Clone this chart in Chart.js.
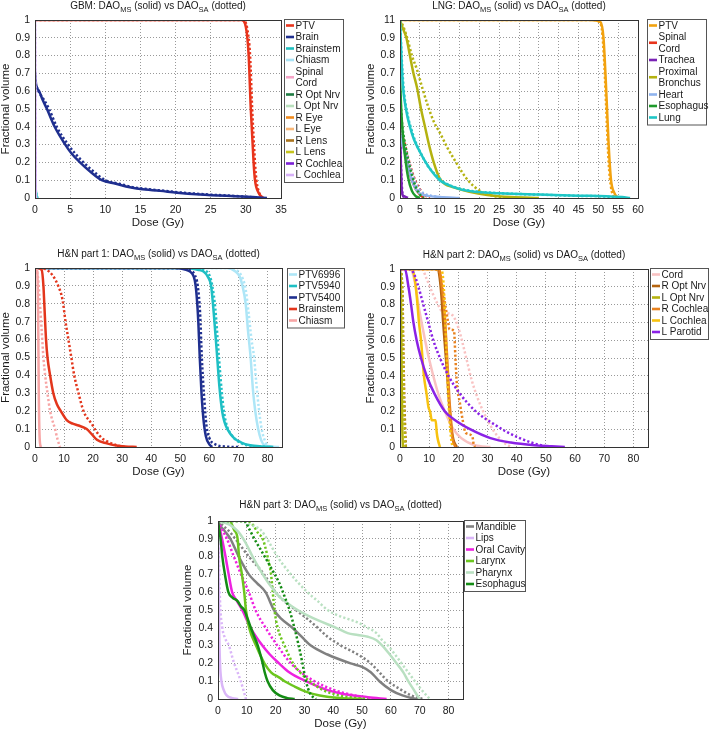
<!DOCTYPE html>
<html>
<head>
<meta charset="utf-8">
<script src="https://cdn.jsdelivr.net/npm/chart.js@4.4.1/dist/chart.umd.min.js"></script>
<style>
  body { margin: 0; background: #fff; width: 709px; height: 730px; overflow: hidden; position: relative; }
  canvas { position: absolute; left: 0; top: 0; }
</style>
</head>
<body>
<canvas id="gbm" width="709" height="730"></canvas>
<canvas id="lng" width="709" height="730"></canvas>
<canvas id="hn1" width="709" height="730"></canvas>
<canvas id="hn2" width="709" height="730"></canvas>
<canvas id="hn3" width="709" height="730"></canvas>
<script>
// ---- GBM ----
const gbmNames = ['PTV','Brain','Brainstem','Chiasm','Spinal Cord','R Opt Nrv','L Opt Nrv','R Eye','L Eye','R Lens','L Lens','R Cochlea','L Cochlea']
const gbmColors = ['#e8341c','#1f2f8f','#1fbfbf','#a8e2f4','#f5a3c7','#1d7a40','#b9e0bd','#f08a1c','#f9b777','#a9731c','#c6c41c','#7b1fd6','#d6b0f7']
const gbm_ptv_ms = [[0,1],[29.4,1],[30,0.96],[30.4,0.8],[30.7,0.5],[31.1,0.2],[31.3,0.1],[31.8,0.03],[32.5,0]]
const gbm_ptv_sa = [[0,1],[29.6,1],[30.2,0.95],[30.6,0.8],[30.9,0.5],[31.3,0.2],[31.5,0.1],[31.9,0.03],[32.3,0]]
const gbm_brain_ms = [[0,0.71],[0.15,0.64],[0.6,0.6],[1.1,0.55],[1.7,0.5],[2.8,0.4],[4.3,0.3],[5.2,0.25],[6.4,0.2],[7.8,0.15],[9.5,0.1],[11.5,0.08],[13.5,0.06],[15,0.05],[17.8,0.04],[20.2,0.03],[23.5,0.02],[28.3,0.01],[31,0.005],[33,0]]
const gbm_brain_sa = [[0,0.65],[0.5,0.6],[1.3,0.55],[2,0.5],[3.1,0.4],[4.7,0.3],[5.7,0.25],[6.9,0.2],[8.3,0.15],[10,0.1],[12,0.08],[14,0.06],[16,0.05],[18.5,0.04],[21,0.03],[24.5,0.02],[29,0.01],[32,0]]
const gbm_bstem_ms = [[0,0.1],[0.15,0.03],[0.3,0]]
const gbm_bstem_sa = [[0,0.08],[0.2,0.02],[0.35,0]]
const gbm_chiasm_ms = [[0,0.06],[0.1,0.02],[0.2,0]]
const gbm_chiasm_sa = [[0,0.05],[0.12,0.02],[0.22,0]]
const gbm_cord_ms = [[0,0.03],[0.1,0]]
const gbm_cord_sa = [[0,0.03],[0.12,0]]
const gbm_ropt_ms = [[0,0.02],[0.1,0]]
const gbm_ropt_sa = [[0,0.02],[0.1,0]]
const gbm_lopt_ms = [[0,0.02],[0.1,0]]
const gbm_lopt_sa = [[0,0.02],[0.1,0]]
const gbm_reye_ms = [[0,0.02],[0.1,0]]
const gbm_reye_sa = [[0,0.02],[0.1,0]]
const gbm_leye_ms = [[0,0.02],[0.1,0]]
const gbm_leye_sa = [[0,0.02],[0.1,0]]
const gbm_rlens_ms = [[0,0.02],[0.1,0]]
const gbm_rlens_sa = [[0,0.02],[0.1,0]]
const gbm_llens_ms = [[0,0.02],[0.1,0]]
const gbm_llens_sa = [[0,0.02],[0.1,0]]
const gbm_rcoch_ms = [[0,0.02],[0.1,0]]
const gbm_rcoch_sa = [[0,0.02],[0.1,0]]
const gbm_lcoch_ms = [[0,1],[0.05,0.5],[0.1,0]]
const gbm_lcoch_sa = [[0,1],[0.05,0.5],[0.1,0]]

// ---- LNG ----
const lngNames = ['PTV','Spinal Cord','Trachea','Proximal Bronchus','Heart','Esophagus','Lung']
const lngColors = ['#f2a20f','#e8341c','#7a22b5','#b4b210','#8fb3ee','#1f9a2c','#1fc6c6']
const lng_ptv_ms = [[0,1],[48,1],[50.5,0.99],[51.3,0.9],[52,0.6],[52.6,0.3],[53.2,0.1],[54,0.03],[55,0]]
const lng_ptv_sa = [[0,1],[49,1],[50.7,0.97],[51.4,0.8],[52,0.5],[52.6,0.2],[53.2,0.06],[54,0]]
const lng_cord_ms = [[0,0.35],[1,0.28],[2,0.18],[3,0.1],[4,0.05],[5,0.02],[6,0]]
const lng_cord_sa = [[0,0.38],[1,0.32],[2,0.23],[3,0.15],[4,0.09],[5,0.05],[6,0.02],[7.5,0]]
const lng_trachea_ms = [[0,0.4],[0.2,0.2],[0.5,0.03],[1,0.01],[2,0]]
const lng_trachea_sa = [[0,0.36],[0.3,0.15],[0.6,0.03],[1.2,0]]
const lng_bronch_ms = [[0,1],[0.6,0.96],[1.6,0.9],[2.5,0.8],[3.4,0.7],[4.3,0.62],[5.3,0.5],[6.3,0.4],[7.3,0.3],[8.5,0.2],[10,0.11],[11.2,0.08],[13.5,0.06],[17.5,0.035],[22,0.017],[28,0.005],[35,0]]
const lng_bronch_sa = [[0,1],[0.7,0.97],[1.8,0.9],[3,0.8],[4.3,0.72],[5.6,0.62],[7,0.52],[8.5,0.43],[10.2,0.36],[12,0.28],[13.6,0.22],[15.5,0.15],[17.5,0.09],[19.5,0.05],[21.5,0.025],[24,0.01],[27,0]]
const lng_heart_ms = [[0,0.35],[1,0.27],[2,0.18],[3,0.1],[4,0.05],[5,0.025],[7,0.012],[10,0.006],[15,0]]
const lng_heart_sa = [[0,0.38],[1,0.3],[2,0.22],[3,0.14],[4,0.08],[5,0.045],[6,0.025],[8,0.012],[12,0]]
const lng_esoph_ms = [[0,0.68],[0.3,0.5],[0.7,0.36],[1.2,0.25],[2,0.12],[3,0.04],[4,0.01],[5,0]]
const lng_esoph_sa = [[0,0.6],[0.5,0.42],[1,0.34],[2,0.22],[3,0.13],[4,0.06],[5,0.02],[6,0]]
const lng_lung_ms = [[0,1],[0.3,0.82],[0.7,0.64],[1.5,0.5],[2.5,0.4],[3.5,0.33],[5,0.26],[6.5,0.2],[8,0.15],[10,0.1],[12,0.075],[15,0.05],[20,0.033],[25,0.026],[35,0.019],[45,0.013],[52,0.01],[56,0.005],[58,0]]
const lng_lung_sa = [[0,1],[0.4,0.8],[0.9,0.62],[1.8,0.48],[2.8,0.39],[4,0.31],[5.5,0.24],[7,0.18],[9,0.13],[11,0.09],[14,0.06],[18,0.04],[25,0.027],[35,0.019],[45,0.012],[52,0.008],[55,0]]

// ---- H&N part 1 ----
const hn1Names = ['PTV6996','PTV5940','PTV5400','Brainstem','Chiasm']
const hn1Colors = ['#aee6f7','#1fbfc4','#1f2f8f','#e3361c','#f7a5a5']
const hn1_p6996_ms = [[0,1],[66,1],[69,0.98],[70.5,0.95],[71.4,0.9],[72.5,0.8],[73.3,0.65],[74.2,0.5],[75,0.32],[75.8,0.2],[76.8,0.1],[77.8,0.04],[79,0.01],[82,0.002],[84,0]]
const hn1_p6996_sa = [[0,1],[67,1],[70,0.98],[71.5,0.94],[72.5,0.88],[73.5,0.75],[74.5,0.6],[75.4,0.5],[76.2,0.35],[77,0.22],[78,0.1],[79,0.04],[80,0.01],[81,0]]
const hn1_p5940_ms = [[0,1],[52,1],[56,0.99],[58,0.98],[59.5,0.95],[60.6,0.9],[61.5,0.75],[62.7,0.5],[63.5,0.33],[64.4,0.2],[65.2,0.14],[66.2,0.1],[68.5,0.05],[71,0.025],[74,0.01],[78,0.003],[82,0]]
const hn1_p5940_sa = [[0,1],[55,1],[58,0.99],[60,0.96],[61,0.9],[62,0.78],[63.3,0.5],[64.2,0.32],[65,0.2],[66,0.12],[67.5,0.07],[70,0.03],[73,0.01],[77,0.003],[80,0]]
const hn1_p5400_ms = [[0,1],[48,1],[52,0.99],[54,0.97],[55,0.93],[55.6,0.85],[56.2,0.7],[56.7,0.5],[57.3,0.3],[58,0.15],[58.8,0.06],[60,0.015],[61,0]]
const hn1_p5400_sa = [[0,1],[50,1],[53,0.99],[55,0.96],[56,0.9],[56.8,0.75],[57.4,0.5],[58.2,0.28],[59,0.12],[60,0.05],[62,0.015],[65,0.003],[70,0]]
const hn1_bstem_ms = [[0,1],[0.6,1],[2.3,0.99],[2.9,0.9],[3.2,0.8],[3.8,0.6],[4.3,0.5],[5.2,0.4],[6.3,0.3],[7.5,0.24],[8.9,0.2],[10.9,0.15],[13,0.13],[15,0.12],[17.8,0.1],[19.6,0.07],[21.3,0.04],[24.7,0.02],[28,0.008],[31,0.003],[35,0]]
const hn1_bstem_sa = [[0,1],[1.7,1],[4,0.99],[6,0.96],[8,0.9],[9.5,0.82],[10.5,0.7],[11.5,0.6],[12.5,0.5],[13.5,0.4],[15,0.3],[16.7,0.2],[19.5,0.13],[21,0.09],[23,0.05],[25,0.03],[28,0.01],[31,0]]
const hn1_chiasm_ms = [[0,1],[0.8,0.98],[1.1,0.7],[1.3,0.3],[1.6,0.05],[2,0]]
const hn1_chiasm_sa = [[0,1],[1,0.95],[1.7,0.8],[2.3,0.65],[2.9,0.5],[3.5,0.4],[4.3,0.3],[5.2,0.2],[6.9,0.1],[7.8,0.04],[8.6,0]]

// ---- H&N part 2 ----
const hn2Names = ['Cord','R Opt Nrv','L Opt Nrv','R Cochlea','L Cochlea','L Parotid']
const hn2Colors = ['#f9c2c2','#b5640f','#b6b30f','#e8821f','#f8c20f','#8a22e6']
const hn2_cord_ms = [[0,1],[3.5,1],[5.4,0.9],[6.3,0.8],[7.4,0.7],[8.6,0.6],[9.9,0.5],[11.4,0.4],[13.1,0.3],[15.4,0.2],[18.3,0.1],[21,0.05],[25.7,0.01],[31,0]]
const hn2_cord_sa = [[0,1],[7.5,1],[9,0.95],[11,0.87],[13,0.8],[14.5,0.76],[18,0.74],[20,0.67],[21.5,0.58],[23,0.48],[24.5,0.38],[26.5,0.28],[28.5,0.2],[31,0.12],[33.5,0.06],[36,0.02],[38,0]]
const hn2_ropt_ms = [[0,1],[13,1],[13.6,0.95],[14.2,0.85],[14.8,0.7],[15.5,0.55],[16.2,0.4],[16.8,0.25],[17.5,0.12],[18.3,0.04],[19.5,0]]
const hn2_ropt_sa = [[0,1],[0.8,0.9],[1.2,0.5],[1.6,0.2],[2,0]]
const hn2_lopt_ms = [[0,1],[0.3,0.9],[0.5,0.5],[0.8,0.1],[1,0]]
const hn2_lopt_sa = [[0,1],[0.6,0.95],[1,0.6],[1.4,0.2],[1.8,0.03],[2,0]]
const hn2_rcoch_ms = [[0,1],[13.5,1],[14,0.95],[15,0.8],[15.5,0.7],[16,0.55],[16.5,0.4],[17,0.25],[17.5,0.15],[18,0.05],[19,0]]
const hn2_rcoch_sa = [[0,1],[10,1],[13.4,0.99],[14.5,0.9],[15.5,0.8],[16.5,0.7],[17,0.66],[18.5,0.655],[19,0.5],[19.5,0.35],[20.5,0.25],[21.5,0.15],[22.5,0.08],[24.8,0.06],[25.2,0.02],[25.7,0]]
const hn2_lcoch_ms = [[0,1],[4.2,1],[5,0.95],[5.4,0.9],[6,0.8],[6.5,0.7],[7.2,0.6],[7.7,0.5],[8.2,0.4],[9.1,0.3],[9.8,0.22],[10.3,0.2],[10.9,0.15],[12.2,0.15],[12.6,0.08],[13,0.04],[13.7,0]]
const hn2_lcoch_sa = [[0,1],[14,1],[15,0.9],[15.5,0.7],[16,0.5],[16.5,0.3],[17,0.15],[17.5,0.05],[18,0]]
const hn2_lpar_ms = [[0,1],[1.7,1],[2.9,0.9],[3.8,0.8],[4.6,0.7],[5.7,0.6],[7.2,0.5],[9.1,0.4],[11.8,0.3],[15.4,0.2],[18.9,0.15],[24,0.1],[31,0.05],[38,0.025],[46,0.01],[52,0.004],[56.5,0]]
const hn2_lpar_sa = [[0,1],[3,1],[4.6,0.98],[6.3,0.9],[8,0.8],[9.7,0.7],[11.4,0.6],[13.7,0.5],[16.6,0.4],[20.5,0.3],[26,0.2],[33,0.12],[36,0.09],[41,0.05],[46,0.02],[51,0]]

// ---- H&N part 3 ----
const hn3Names = ['Mandible','Lips','Oral Cavity','Larynx','Pharynx','Esophagus']
const hn3Colors = ['#808080','#dab6f8','#ee22e0','#6cc61e','#b9e0c1','#148c14']
const hn3_mand_ms = [[0,1],[1,0.97],[2.5,0.94],[4.3,0.9],[7.2,0.8],[10.7,0.7],[13.6,0.65],[16.5,0.6],[19.4,0.5],[22,0.45],[25.8,0.4],[29,0.35],[32.2,0.3],[38,0.25],[46,0.2],[50,0.18],[53,0.15],[56,0.1],[60,0.05],[64,0.02],[68,0.003],[70,0]]
const hn3_mand_sa = [[0,1],[2,0.97],[4,0.94],[6,0.9],[10.7,0.8],[16,0.7],[20,0.6],[23,0.55],[27,0.5],[31,0.45],[34.6,0.4],[38,0.35],[42.7,0.3],[48.5,0.25],[53,0.2],[56,0.15],[59,0.1],[63.7,0.05],[67,0.02],[71,0]]
const hn3_lips_ms = [[0,1],[0.2,0.7],[0.4,0.4],[0.7,0.2],[1.2,0.1],[2,0.05],[3,0.02],[5,0.005],[7,0]]
const hn3_lips_sa = [[0,1],[0.3,0.8],[0.7,0.55],[1.5,0.4],[2.5,0.34],[3.8,0.3],[4.7,0.25],[5.6,0.2],[6.8,0.15],[7.9,0.1],[9,0.04],[9.7,0]]
const hn3_oral_ms = [[0,1],[1.4,0.9],[2.6,0.8],[3.7,0.7],[4.9,0.6],[6.6,0.55],[8.4,0.5],[11.3,0.4],[15.4,0.3],[18,0.25],[21.2,0.2],[24.7,0.15],[30.5,0.1],[38,0.05],[43,0.03],[52,0.01],[58.5,0]]
const hn3_oral_sa = [[0,1],[1.5,0.95],[3.1,0.9],[5.5,0.8],[8,0.7],[10.7,0.6],[13,0.5],[16.5,0.4],[20.6,0.3],[25.3,0.2],[28.8,0.15],[33.4,0.1],[40.4,0.05],[47.4,0.02],[54.5,0]]
const hn3_lar_ms = [[0,1],[4,1],[5.6,0.95],[6.8,0.9],[7.3,0.8],[8.3,0.7],[9.1,0.6],[9.7,0.5],[10.8,0.4],[13.2,0.3],[16.1,0.2],[18.4,0.15],[21.3,0.12],[23.1,0.1],[26.6,0.07],[30.7,0.04],[35.3,0.02],[42.3,0.005],[50,0]]
const hn3_lar_sa = [[0,1],[10,1],[12,0.98],[14,0.93],[15.5,0.9],[17.2,0.8],[18.4,0.7],[19,0.6],[19.6,0.5],[20.7,0.4],[23.1,0.3],[26,0.2],[28.5,0.15],[31.8,0.1],[36.5,0.05],[42,0.02],[48,0.005],[52,0]]
const hn3_phar_ms = [[0,1],[4,0.98],[7,0.94],[9.5,0.88],[12,0.8],[14.8,0.72],[18,0.64],[21,0.58],[24,0.54],[27.6,0.5],[31,0.47],[35,0.44],[41,0.4],[45,0.37],[48.5,0.36],[52,0.35],[55,0.33],[57,0.3],[59.6,0.25],[62,0.2],[64.3,0.15],[66,0.1],[68,0.05],[69.5,0.01],[70,0]]
const hn3_phar_sa = [[0,1],[8,1],[11,0.98],[14.8,0.95],[17,0.9],[20.6,0.8],[25.3,0.7],[31,0.6],[34.6,0.55],[38,0.5],[41.6,0.47],[45,0.45],[48.5,0.43],[52,0.4],[55,0.37],[57,0.33],[59,0.3],[61.4,0.25],[63.7,0.2],[66,0.15],[68.3,0.1],[70.7,0.05],[73.5,0]]
const hn3_esoph_ms = [[0,1],[0.9,0.9],[1.5,0.8],[2.4,0.7],[3.6,0.6],[5,0.57],[6.8,0.55],[8,0.52],[9.1,0.5],[10.3,0.45],[11.4,0.4],[12.6,0.35],[13.8,0.3],[14.7,0.25],[15.5,0.2],[16.2,0.15],[17.2,0.1],[19,0.05],[21.3,0.02],[24,0.005],[26.6,0]]
const hn3_esoph_sa = [[0,1],[9,1],[11,0.95],[12.6,0.9],[15.5,0.82],[19,0.72],[21.3,0.65],[23,0.58],[24.8,0.5],[26.5,0.4],[28,0.3],[29.3,0.2],[30.5,0.1],[32,0.03],[34,0]]

const yTicks = [0,0.1,0.2,0.3,0.4,0.5,0.6,0.7,0.8,0.9,1]

Chart.defaults.font.family = '"Liberation Sans", Arial, sans-serif'
Chart.defaults.color = '#1a1a1a'

const FONT = '"Liberation Sans", Arial, sans-serif'
const WY = 40, HX = 32

// title, axis names and legend are drawn by hand (subscripts, legend box over the figure)
const decor = {
  id: 'decor',
  afterDraw(chart, args, o) {
    const ctx = chart.ctx, a = chart.chartArea
    ctx.save()
    ctx.strokeStyle = '#333'
    ctx.lineWidth = 1
    ctx.strokeRect(Math.round(a.left) + 0.5, Math.round(a.top) + 0.5, Math.round(a.right - a.left), Math.round(a.bottom - a.top))

    // title with subscripts
    const parts = [[o.title + ': DAO', 0], ['MS', 1], [' (solid) vs DAO', 0], ['SA', 1], [' (dotted)', 0]]
    let total = 0
    parts.forEach(p => { ctx.font = (p[1] ? '7.5px ' : '10px ') + FONT; total += ctx.measureText(p[0]).width })
    let x = (a.left + a.right) / 2 - total / 2
    const ty = a.top - o.titleGap
    ctx.fillStyle = '#1a1a1a'
    ctx.textBaseline = 'alphabetic'
    ctx.textAlign = 'left'
    parts.forEach(p => {
      ctx.font = (p[1] ? '7.5px ' : '10px ') + FONT
      ctx.fillText(p[0], x, ty + (p[1] ? 3 : 0))
      x += ctx.measureText(p[0]).width
    })

    // axis names
    ctx.font = '11.5px ' + FONT
    ctx.textAlign = 'center'
    ctx.textBaseline = 'middle'
    ctx.fillText('Dose (Gy)', (a.left + a.right) / 2, a.bottom + 25)
    ctx.save()
    ctx.translate(a.left - o.yGap, (a.top + a.bottom) / 2)
    ctx.rotate(-Math.PI / 2)
    ctx.fillText('Fractional volume', 0, 0)
    ctx.restore()

    // legend
    const L = o.legend
    ctx.font = '10px ' + FONT
    const rows = []
    o.names.forEach((n, i) => {
      const words = n.split(' ')
      const lines = []
      let cur = ''
      words.forEach(w => {
        const t = cur ? cur + ' ' + w : w
        if (cur && ctx.measureText(t).width > L.maxW) { lines.push(cur); cur = w } else cur = t
      })
      lines.push(cur)
      rows.push({ lines, color: o.colors[i] })
    })
    const nLines = rows.reduce((s, r) => s + r.lines.length, 0)
    const lh = 11.5
    const h = nLines * lh + 2
    ctx.fillStyle = '#fff'
    ctx.fillRect(L.x, L.y, L.w, h)
    ctx.strokeStyle = '#555'
    ctx.strokeRect(L.x + 0.5, L.y + 0.5, L.w, h)
    let k = 0
    ctx.textAlign = 'left'
    rows.forEach(r => {
      const cy = L.y + 6.5 + (k + (r.lines.length - 1) / 2) * lh
      ctx.strokeStyle = r.color
      ctx.lineWidth = 2.6
      ctx.beginPath()
      ctx.moveTo(L.x + 2, cy)
      ctx.lineTo(L.x + 10, cy)
      ctx.stroke()
      ctx.fillStyle = '#1a1a1a'
      r.lines.forEach((t, j) => ctx.fillText(t, L.x + 11.5, L.y + 7 + (k + j) * lh))
      k += r.lines.length
    })
    ctx.restore()
  }
}

function makePanel(id, p) {
  const datasets = []
  p.names.forEach((n, i) => {
    datasets.push({
      label: n, data: p.solid[i].map(d => ({ x: d[0], y: d[1] })),
      borderColor: p.colors[i], borderWidth: 2.5, pointRadius: 0,
      cubicInterpolationMode: 'monotone', order: -2 * i
    })
    datasets.push({
      label: n + ' (SA)', data: p.dotted[i].map(d => ({ x: d[0], y: d[1] })),
      borderColor: p.colors[i], borderWidth: 2.5, borderDash: [2.2, 2.2], pointRadius: 0,
      cubicInterpolationMode: 'monotone', order: -2 * i - 1
    })
  })
  const a = p.area
  new Chart(document.getElementById(id), {
    type: 'line',
    data: { datasets },
    options: {
      responsive: false,
      animation: false,
      events: [],
      layout: { padding: { left: a.l - WY, top: a.t, right: 709 - a.r, bottom: 730 - a.b - HX } },
      plugins: {
        legend: { display: false },
        tooltip: { enabled: false },
        decor: { title: p.title, legend: p.legend, names: p.names, colors: p.colors, titleGap: p.titleGap || 11, yGap: p.yGap || 29 }
      },
      scales: {
        x: {
          type: 'linear', min: 0, max: p.xMax,
          afterFit: s => { s.height = HX },
          ticks: { stepSize: p.xStep, includeBounds: false, padding: 6, maxRotation: 0, autoSkip: false, font: { size: 10.5 } },
          grid: { color: '#999', drawTicks: false },
          border: { display: true, color: '#333', dash: [1, 2] }
        },
        y: {
          type: 'linear', min: 0, max: 1,
          afterFit: s => { s.width = WY },
          afterBuildTicks: s => { s.ticks = yTicks.map(v => ({ value: v })) },
          ticks: {
            padding: 5, font: { size: 10.5 },
            callback: v => (v === 1 && p.topLabel) ? p.topLabel : String(+v.toFixed(1))
          },
          grid: { color: '#999', drawTicks: false },
          border: { display: true, color: '#333', dash: [1, 2] }
        }
      }
    },
    plugins: [decor]
  })
}

makePanel('gbm', {
  title: 'GBM', names: gbmNames, colors: gbmColors, xMax: 35, xStep: 5,
  area: { l: 35, r: 281, t: 20, b: 198 },
  legend: { x: 284, y: 19, w: 59, maxW: 48 },
  solid: [gbm_ptv_ms, gbm_brain_ms, gbm_bstem_ms, gbm_chiasm_ms, gbm_cord_ms, gbm_ropt_ms, gbm_lopt_ms, gbm_reye_ms, gbm_leye_ms, gbm_rlens_ms, gbm_llens_ms, gbm_rcoch_ms, gbm_lcoch_ms],
  dotted: [gbm_ptv_sa, gbm_brain_sa, gbm_bstem_sa, gbm_chiasm_sa, gbm_cord_sa, gbm_ropt_sa, gbm_lopt_sa, gbm_reye_sa, gbm_leye_sa, gbm_rlens_sa, gbm_llens_sa, gbm_rcoch_sa, gbm_lcoch_sa]
})

makePanel('lng', {
  title: 'LNG', names: lngNames, colors: lngColors, xMax: 60, xStep: 5, topLabel: '11',
  area: { l: 400, r: 638, t: 20, b: 198 },
  legend: { x: 647, y: 19, w: 59, maxW: 49 },
  solid: [lng_ptv_ms, lng_cord_ms, lng_trachea_ms, lng_bronch_ms, lng_heart_ms, lng_esoph_ms, lng_lung_ms],
  dotted: [lng_ptv_sa, lng_cord_sa, lng_trachea_sa, lng_bronch_sa, lng_heart_sa, lng_esoph_sa, lng_lung_sa]
})

makePanel('hn1', {
  title: 'H&N part 1', names: hn1Names, colors: hn1Colors, xMax: 85, xStep: 10,
  area: { l: 35, r: 282, t: 268, b: 447 },
  legend: { x: 287, y: 268, w: 57, maxW: 999 },
  solid: [hn1_p6996_ms, hn1_p5940_ms, hn1_p5400_ms, hn1_bstem_ms, hn1_chiasm_ms],
  dotted: [hn1_p6996_sa, hn1_p5940_sa, hn1_p5400_sa, hn1_bstem_sa, hn1_chiasm_sa]
})

makePanel('hn2', {
  title: 'H&N part 2', names: hn2Names, colors: hn2Colors, xMax: 85, xStep: 10,
  area: { l: 400, r: 648, t: 269, b: 447 },
  legend: { x: 650, y: 268, w: 58, maxW: 999 },
  solid: [hn2_cord_ms, hn2_ropt_ms, hn2_lopt_ms, hn2_rcoch_ms, hn2_lcoch_ms, hn2_lpar_ms],
  dotted: [hn2_cord_sa, hn2_ropt_sa, hn2_lopt_sa, hn2_rcoch_sa, hn2_lcoch_sa, hn2_lpar_sa]
})

makePanel('hn3', {
  title: 'H&N part 3', names: hn3Names, colors: hn3Colors, xMax: 85, xStep: 10, titleGap: 13, yGap: 30,
  area: { l: 218, r: 463, t: 521, b: 699 },
  legend: { x: 464, y: 520, w: 61, maxW: 999 },
  solid: [hn3_mand_ms, hn3_lips_ms, hn3_oral_ms, hn3_lar_ms, hn3_phar_ms, hn3_esoph_ms],
  dotted: [hn3_mand_sa, hn3_lips_sa, hn3_oral_sa, hn3_lar_sa, hn3_phar_sa, hn3_esoph_sa]
})
</script>
</body>
</html>
